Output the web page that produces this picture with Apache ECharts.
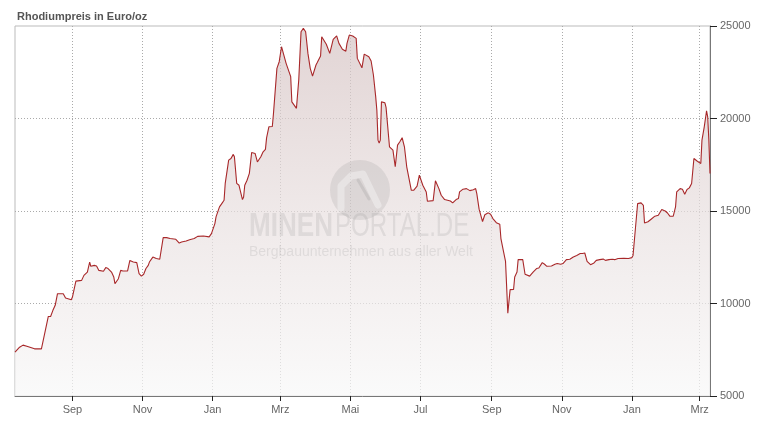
<!DOCTYPE html>
<html>
<head>
<meta charset="utf-8">
<script src="https://cdn.jsdelivr.net/npm/echarts@6/dist/echarts.min.js"></script>
<style>
html,body{margin:0;padding:0;background:#fff;}
#chart{width:767px;height:425px;}
</style>
</head>
<body>
<div id="chart"></div>
<script>
// Days since 2020-07-13 (UTC) and rhodium price in EUR/oz
var startDate = Date.UTC(2020, 6, 13);
var dayOffsets = [
  0,1,4,7,11,17,23,29,31,33,35,37,42,44,49,50,53,58,59,60,63,65,66,69,71,73,77,79,81,84,
  86,87,90,92,94,98,100,101,103,106,108,110,112,114,116,117,120,123,126,129,132,135,140,143,145,149,152,156,159,164,
  169,171,174,175,178,180,182,183,186,188,190,191,193,195,196,198,199,200,202,204,206,209,211,214,216,218,219,221,224,225,
  228,230,232,236,240,241,245,247,249,251,252,253,255,257,259,262,263,266,267,268,271,274,277,280,282,285,288,289,291,294,
  295,297,298,302,304,305,308,310,312,314,315,316,317,318,319,322,323,326,329,331,333,335,337,339,341,345,347,350,352,353,
  355,358,359,364,366,367,369,371,374,379,381,384,386,387,390,393,396,399,401,402,404,407,409,412,414,416,419,422,423,425,
  427,429,431,434,435,437,438,442,444,448,451,454,456,459,461,463,467,470,472,475,477,480,483,486,489,492,494,496,498,501,
  504,506,509,512,514,517,520,522,525,530,534,537,538,540,542,545,547,548,551,554,557,560,563,564,566,568,570,573,575,576,
  579,581,583,585,587,589,591,594,597,598,600,602,603,604,605
];
var prices = [
  7370,7340,7640,7750,7680,7550,7550,9300,9300,9630,9900,10530,10530,10300,10200,10350,11210,11250,11290,11520,11700,12240,12010,12060,12030,11790,11740,11940,11890,11700,
  11430,11070,11340,11790,11760,11760,12330,12430,12240,12210,11610,11480,11580,11890,12060,12240,12510,12430,12390,13560,13560,13510,13470,13270,13320,13380,13450,13510,13630,13650,
  13600,13780,14320,14680,15220,15400,15580,16490,17750,17840,18060,17930,16490,16390,16300,15620,15760,16390,16660,17030,18160,18110,17650,17930,18200,18330,18950,19550,19570,20270,
  22710,23070,23880,22980,22260,20900,20550,22080,24690,24870,24960,24690,23520,22710,22290,22890,23010,23380,24420,24460,24010,23520,24280,24470,24060,23740,23640,24060,24510,24460,
  24530,24330,23250,22740,23480,23380,23340,23110,22350,21170,20450,18830,18680,18830,20900,20850,20600,18470,18290,17390,18560,18740,18960,18470,17390,16120,16120,16340,16940,16840,
  16390,16030,15530,15560,16630,16630,16210,15850,15620,15540,15440,15620,15670,16030,16180,16210,16100,16150,16210,15940,15100,14430,14800,14900,14820,14590,14370,14280,13510,12880,
  12280,9480,10750,10760,11430,11700,12370,12370,11580,11480,11700,11890,11920,12210,12120,12010,12030,12120,12160,12120,12160,12370,12390,12510,12600,12700,12700,12730,12280,12100,
  12190,12330,12370,12400,12330,12370,12390,12370,12430,12450,12430,12480,12600,14000,15400,15440,15310,14350,14420,14570,14720,14770,15080,15130,15000,14890,14720,14720,15220,16030,
  16210,16180,15910,16160,16250,16490,17840,17690,17570,18830,19550,20420,20090,18830,17030
];
// x-axis tick dates (first of every second month)
var tickDates = ['2020-09-01','2020-11-01','2021-01-01','2021-03-01','2021-05-01','2021-07-01',
                 '2021-09-01','2021-11-01','2022-01-01','2022-03-01'];
var monthNames = ['Jan','Feb','Mrz','Apr','Mai','Jun','Jul','Aug','Sep','Okt','Nov','Dez'];
var yTicks = [5000, 10000, 15000, 20000, 25000];
var titleText = 'Rhodiumpreis in Euro/oz';

var DAY = 86400000;
var seriesData = dayOffsets.map(function (d, i) { return [startDate + d * DAY, prices[i]]; });
var tickValues = tickDates.map(function (s) { return Date.parse(s + 'T00:00:00Z'); });

var chart = echarts.init(document.getElementById('chart'), null, {renderer: 'canvas'});
var font = '"Liberation Sans", Arial, sans-serif';
var wmColor = 'rgba(150,150,150,0.20)';

chart.setOption({
  animation: false,
  backgroundColor: '#fff',
  title: {
    text: titleText, left: 12, top: 6,
    textStyle: {fontFamily: font, fontSize: 11, fontWeight: 'bold', color: '#555'}
  },
  grid: {left: 15, right: 57, top: 26, bottom: 29, show: true, borderColor: '#bbb', borderWidth: 1, backgroundColor: 'transparent'},
  xAxis: {
    type: 'value',
    min: startDate + dayOffsets[0] * DAY,
    max: startDate + dayOffsets[dayOffsets.length - 1] * DAY,
    axisLine: {show: true, onZero: false, lineStyle: {color: '#777', width: 1}},
    axisTick: {show: true, length: 5, lineStyle: {color: '#222'}, customValues: tickValues},
    axisLabel: {
      customValues: tickValues, margin: 8,
      fontFamily: font, fontSize: 11, color: '#666',
      formatter: function (v) { return monthNames[new Date(v).getUTCMonth()]; }
    },
    splitLine: {show: true, lineStyle: {color: '#aaa', type: [1, 2], width: 1}}
  },
  yAxis: {
    type: 'value', position: 'right',
    min: yTicks[0], max: yTicks[yTicks.length - 1], interval: 5000,
    axisLine: {show: true, lineStyle: {color: '#777', width: 1}},
    axisTick: {show: true, length: 7, lineStyle: {color: '#222'}},
    axisLabel: {margin: 10, fontFamily: font, fontSize: 11, color: '#666',
      formatter: function (v) { return String(v); }},
    splitLine: {show: true, lineStyle: {color: ['rgba(0,0,0,0)', '#aaa', '#aaa', '#aaa', 'rgba(0,0,0,0)'], type: [1, 2], width: 1}}
  },
  series: [{
    type: 'line',
    data: seriesData,
    showSymbol: false,
    symbol: 'none',
    lineStyle: {color: '#a8282a', width: 1.1},
    areaStyle: {
      color: new echarts.graphic.LinearGradient(0, 26, 0, 396, [
        {offset: 0, color: '#d5c2c2'},
        {offset: 0.5, color: '#e8dfdf'},
        {offset: 1, color: '#f8f8f8'}
      ], true)
    }
  }],
  graphic: [
    {type: 'circle', z: 100, shape: {cx: 360, cy: 190, r: 30}, style: {fill: wmColor}},
    {type: 'polyline', z: 101, shape: {points: [[341, 208], [341, 186], [351, 176], [363, 174], [378, 205]]},
      style: {stroke: 'rgba(255,255,255,0.35)', lineWidth: 7, lineCap: 'round', lineJoin: 'round', fill: null}},
    {type: 'line', z: 101, shape: {x1: 358, y1: 180, x2: 369, y2: 199},
      style: {stroke: 'rgba(150,150,150,0.25)', lineWidth: 3, lineCap: 'round'}},
    {type: 'text', z: 100, x: 249, y: 243, scaleX: 0.79, originX: 0, originY: 0,
      style: {text: 'MINEN', font: 'bold 33px ' + font, fill: wmColor, verticalAlign: 'bottom'}},
    {type: 'text', z: 100, x: 335, y: 243, scaleX: 0.73, originX: 0, originY: 0,
      style: {text: 'PORTAL.DE', font: '33px ' + font, fill: wmColor, verticalAlign: 'bottom'}},
    {type: 'text', z: 100, x: 249, y: 245,
      style: {text: 'Bergbauunternehmen aus aller Welt', font: '14px ' + font, fill: wmColor, verticalAlign: 'top'}}
  ]
});
</script>
</body>
</html>
